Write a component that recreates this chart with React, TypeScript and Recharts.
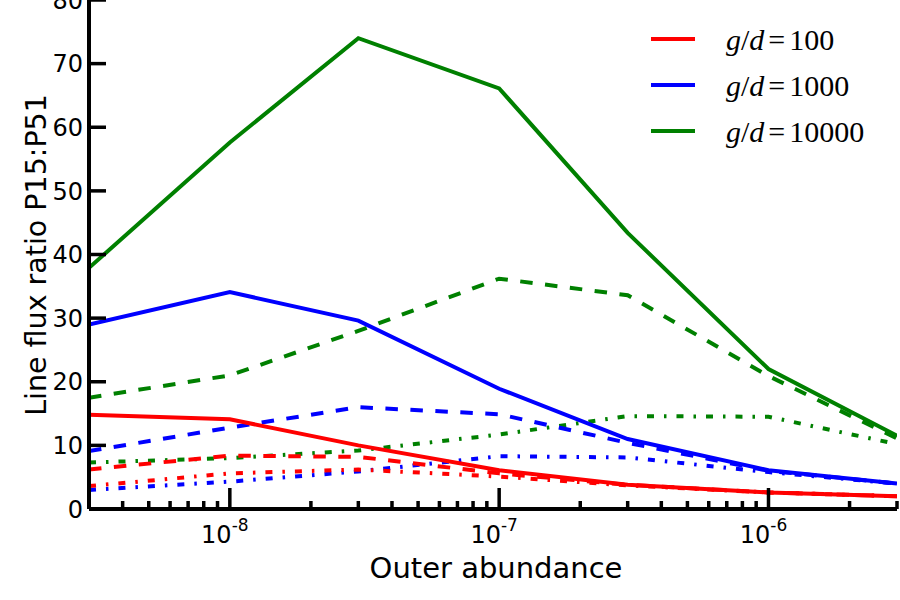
import { LineChart, Line, XAxis, YAxis } from 'recharts';

// outer abundance grid points
const abundance = [3e-9, 1e-8, 3e-8, 1e-7, 3e-7, 1e-6, 3e-6];

// g/d = 100 (red)
const red100Solid = [14.8, 14.1, 10.0, 6.1, 3.8, 2.6, 2.0];
const red100Dashed = [6.2, 8.4, 8.2, 5.6, 3.8, 2.6, 2.0];
const red100DashDot = [3.6, 5.6, 6.2, 5.1, 3.7, 2.6, 2.0];

// g/d = 1000 (blue)
const blue1000Solid = [29.0, 34.1, 29.6, 18.9, 11.0, 6.1, 4.0];
const blue1000Dashed = [9.1, 12.8, 16.0, 14.9, 10.4, 6.0, 4.0];
const blue1000DashDot = [3.0, 4.3, 5.9, 8.3, 8.1, 5.8, 4.0];

// g/d = 10000 (green)
const green10000Solid = [37.9, 57.6, 74.0, 66.1, 43.4, 22.0, 11.5];
const green10000Dashed = [17.5, 21.0, 28.0, 36.2, 33.6, 20.9, 11.1];
const green10000DashDot = [7.3, 8.0, 9.2, 11.7, 14.6, 14.5, 10.2];

const majorX = [1e-8, 1e-7, 1e-6];
const minorMult = [2, 3, 4, 5, 6, 7, 8, 9];
const yTicks = [0, 10, 20, 30, 40, 50, 60, 70, 80];

const legendItems = [
  { label: '100', color: '#ff0000' },
  { label: '1000', color: '#0000ff' },
  { label: '10000', color: '#008000' },
];

const xTicks: number[] = [];
[1e-9, 1e-8, 1e-7, 1e-6].forEach((base) => {
  [1, ...minorMult].forEach((m) => {
    const v = base * m;
    if (v >= 2.99e-9 && v <= 3.01e-6) xTicks.push(v);
  });
});

const data = abundance.map((x, i) => ({
  x,
  rs: red100Solid[i],
  rd: red100Dashed[i],
  rdd: red100DashDot[i],
  bs: blue1000Solid[i],
  bd: blue1000Dashed[i],
  bdd: blue1000DashDot[i],
  gs: green10000Solid[i],
  gd: green10000Dashed[i],
  gdd: green10000DashDot[i],
}));

const isMajor = (v: number) => majorX.some((m) => Math.abs(v / m - 1) < 1e-6);

const BottomTick = (props: any) => {
  const { x, y, payload } = props;
  const v = payload.value;
  const major = isMajor(v);
  const exp = Math.round(Math.log10(v));
  return (
    <g>
      <line x1={x} x2={x} y1={y} y2={y - (major ? 21 : 8)} stroke="#000" strokeWidth={3.5} />
      {major && (
        <text x={x - 5} y={y + 34} textAnchor="middle" fontSize={24} fontFamily="DejaVu Sans" fill="#000">
          10
          <tspan dy={-12} fontSize={17}>{exp}</tspan>
        </text>
      )}
    </g>
  );
};

const TopTick = (props: any) => {
  const { x, y, payload } = props;
  const major = isMajor(payload.value);
  return <line x1={x} x2={x} y1={y} y2={y + (major ? 21 : 8)} stroke="#000" strokeWidth={3.5} />;
};

const LeftTick = (props: any) => {
  const { x, y, payload } = props;
  return (
    <g>
      <line x1={x} x2={x + 17} y1={y} y2={y} stroke="#000" strokeWidth={3.5} />
      <text x={x - 6} y={y} dy="0.36em" textAnchor="end" fontSize={24} fontFamily="DejaVu Sans" fill="#000">
        {payload.value}
      </text>
    </g>
  );
};

const RightTick = (props: any) => {
  const { x, y } = props;
  return <line x1={x} x2={x - 17} y1={y} y2={y} stroke="#000" strokeWidth={3.5} />;
};

const axisLine = { stroke: '#000', strokeWidth: 4 };
const SW = 4;
const DASH = '12.5 12.5';
const DASHDOT = '7 10 2.5 10';

export default function App() {
  return (
    <div style={{ position: 'absolute', left: 0, top: 0, width: 900, height: 600, background: '#fff' }}>
      <LineChart width={900} height={600} data={data} margin={{ top: 0, right: 3, bottom: 0, left: 0 }}>
        <XAxis
          dataKey="x"
          type="number"
          scale="log"
          domain={[3e-9, 3e-6]}
          allowDataOverflow
          ticks={xTicks}
          interval={0}
          height={91}
          tickSize={0}
          tickMargin={0}
          axisLine={axisLine}
          tick={<BottomTick />}
        />
        <XAxis
          xAxisId="top"
          orientation="top"
          dataKey="x"
          type="number"
          scale="log"
          domain={[3e-9, 3e-6]}
          allowDataOverflow
          ticks={xTicks}
          interval={0}
          height={0}
          tickSize={0}
          tickMargin={0}
          axisLine={axisLine}
          tick={<TopTick />}
        />
        <YAxis
          type="number"
          domain={[0, 80]}
          ticks={yTicks}
          interval={0}
          width={89}
          tickSize={0}
          tickMargin={0}
          axisLine={axisLine}
          tick={<LeftTick />}
        />
        <YAxis
          yAxisId="right"
          orientation="right"
          type="number"
          domain={[0, 80]}
          ticks={yTicks}
          interval={0}
          width={0}
          tickSize={0}
          tickMargin={0}
          axisLine={axisLine}
          tick={<RightTick />}
        />
        <Line dataKey="gdd" stroke="#008000" strokeWidth={SW} strokeDasharray={DASHDOT} dot={false} isAnimationActive={false} />
        <Line dataKey="bdd" stroke="#0000ff" strokeWidth={SW} strokeDasharray={DASHDOT} dot={false} isAnimationActive={false} />
        <Line dataKey="rdd" stroke="#ff0000" strokeWidth={SW} strokeDasharray={DASHDOT} dot={false} isAnimationActive={false} />
        <Line dataKey="gd" stroke="#008000" strokeWidth={SW} strokeDasharray={DASH} dot={false} isAnimationActive={false} />
        <Line dataKey="bd" stroke="#0000ff" strokeWidth={SW} strokeDasharray={DASH} dot={false} isAnimationActive={false} />
        <Line dataKey="rd" stroke="#ff0000" strokeWidth={SW} strokeDasharray={DASH} dot={false} isAnimationActive={false} />
        <Line dataKey="gs" stroke="#008000" strokeWidth={SW} dot={false} isAnimationActive={false} />
        <Line dataKey="bs" stroke="#0000ff" strokeWidth={SW} dot={false} isAnimationActive={false} />
        <Line dataKey="rs" stroke="#ff0000" strokeWidth={SW} dot={false} isAnimationActive={false} />
      </LineChart>

      {/* axis titles */}
      <div
        style={{
          position: 'absolute',
          left: 37,
          top: 255,
          transform: 'translate(-50%, -50%) rotate(-90deg)',
          whiteSpace: 'nowrap',
          fontFamily: 'DejaVu Sans',
          fontSize: 28.5,
          lineHeight: 1,
        }}
      >
        Line flux ratio P15:P51
      </div>
      <div
        style={{
          position: 'absolute',
          left: 496,
          top: 568,
          transform: 'translate(-50%, -50%)',
          whiteSpace: 'nowrap',
          fontFamily: 'DejaVu Sans',
          fontSize: 29,
          lineHeight: 1,
        }}
      >
        Outer abundance
      </div>

      {/* legend */}
      {legendItems.map((item, i) => (
        <div key={item.label} style={{ position: 'absolute', left: 651, top: 37 + i * 46, height: 4, width: 44, background: item.color }} />
      ))}
      {legendItems.map((item, i) => (
        <div
          key={'t' + item.label}
          style={{
            position: 'absolute',
            left: 726,
            top: 40 + i * 46,
            transform: 'translateY(-50%)',
            whiteSpace: 'nowrap',
            fontFamily: 'Liberation Serif',
            fontSize: 30,
            lineHeight: 1,
          }}
        >
          <i>g</i>/<i>d</i>
          <span style={{ margin: '0 4px' }}>=</span>
          {item.label}
        </div>
      ))}
    </div>
  );
}
